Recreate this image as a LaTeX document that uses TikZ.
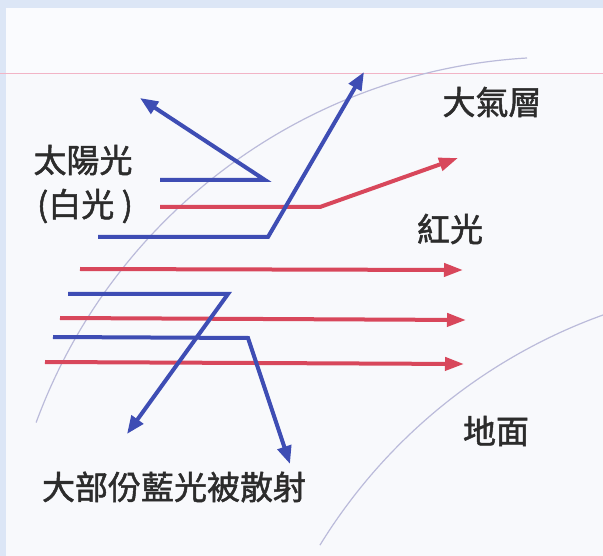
\documentclass[tikz,border=0pt]{standalone}
\usepackage{fontspec}
\newfontfamily\cjk[FakeBold=1.5]{Noto Sans CJK TC}
\usetikzlibrary{arrows.meta}
\definecolor{bg}{HTML}{F8F9FC}
\definecolor{bgblue}{HTML}{DCE6F6}
\definecolor{pinkline}{HTML}{F2B4C6}
\definecolor{arc}{HTML}{BBBBDA}
\definecolor{ray blue}{HTML}{3E4DB4}
\definecolor{ray red}{HTML}{D8475B}
\definecolor{txt}{HTML}{2C2C2C}
\tikzset{
  lbl/.style={font=\cjk\fontsize{33}{36}\selectfont, text=txt, inner sep=0pt},
  bray/.style={draw=ray blue, line width=4pt, -{Triangle[length=18pt,width=14pt]}},
  rray/.style={draw=ray red, line width=4pt, -{Triangle[length=19pt,width=13pt]}},
  arcline/.style={draw=arc, line width=1.2pt}
}
\begin{document}
\begin{tikzpicture}[x=1pt,y=-1pt]
\useasboundingbox (0,0) rectangle (603,556);
% background
\fill[bgblue] (0,0) rectangle (603,556);
\fill[bg] (6,8) rectangle (603,556);
\fill[bgblue!15] (6,8) rectangle (603,74);
\draw[pinkline, line width=1pt] (0,74) -- (603,74);

% arcs (atmosphere and ground)
\draw[arcline] (527,58) arc[start angle={atan2(58-617,527-560)}, end angle={atan2(423-617,32-560)}, radius=558];
\draw[arcline] (603,315) arc[start angle={atan2(315-834,603-790)}, end angle={atan2(545-834,320-790)}, radius=552];

% named points of rays
\coordinate (b1s) at (160,180); \coordinate (b1k) at (265,180); \coordinate (b1e) at (140,98);
\coordinate (r1s) at (160,207); \coordinate (r1k) at (320,207); \coordinate (r1e) at (458,158);
\coordinate (b2s) at (98,237);  \coordinate (b2k) at (268,237); \coordinate (b2e) at (364,72);
\coordinate (r2s) at (80,269);  \coordinate (r2e) at (463,270);
\coordinate (b3s) at (68,294);  \coordinate (b3k) at (228,294); \coordinate (b3e) at (127,434);
\coordinate (r3s) at (60,318);  \coordinate (r3e) at (466,320);
\coordinate (b4s) at (53,337);  \coordinate (b4k) at (248,338); \coordinate (b4e) at (290,464);
\coordinate (r4s) at (45,362);  \coordinate (r4e) at (464,364);

% rays
\draw[rray] (r2s) -- (r2e);
\draw[rray] (r3s) -- (r3e);
\draw[rray] (r4s) -- (r4e);
\draw[rray] (r1s) -- (r1k) -- (r1e);
\draw[bray] (b1s) -- (b1k) -- (b1e);
\draw[bray] (b2s) -- (b2k) -- (b2e);
\draw[bray] (b3s) -- (b3k) -- (b3e);
\draw[bray] (b4s) -- (b4k) -- (b4e);

% labels
\node[lbl] (sun) at (83,160) {太陽光};
\node[lbl] (white) at (85,206) {(白光 )};
\node[lbl] (atm) at (492,102) {大氣層};
\node[lbl] (red) at (450,229) {紅光};
\node[lbl] (ground) at (496,431) {地面};
\node[lbl] (scatter) at (174,487) {大部份藍光被散射};
\end{tikzpicture}
\end{document}
